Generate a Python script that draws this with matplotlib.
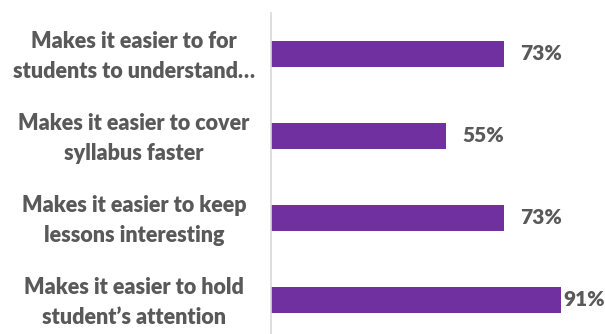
import matplotlib.pyplot as plt
import matplotlib.transforms as mtransforms

# Survey answers and share of respondents agreeing
categories = [
    "Makes it easier to for\nstudents to understand…",
    "Makes it easier to cover\nsyllabus faster",
    "Makes it easier to keep\nlessons interesting",
    "Makes it easier to hold\nstudent’s attention",
]
values = [73, 55, 73, 91]

plt.rcParams['font.family'] = ['Lato', 'DejaVu Sans']
text_color = '#595959'
bar_color = '#7030A0'

fig = plt.figure(figsize=(6.05, 3.34), dpi=100)
ax = fig.add_axes([271 / 605, 0, 1 - 271 / 605, 1 - 13 / 334])

pos = list(range(len(categories)))
ax.barh(pos, values, height=0.32, color=bar_color)

ax.set_xlim(0, 104.7)
ax.set_ylim(3.415, -0.5)

for p, v in zip(pos, values):
    if v > 85:
        ax.text(104.7, p, f"{v}%", ha='right', va='center', fontsize=15,
                fontweight='heavy', color=text_color)
    else:
        ax.text(v + 5, p, f"{v}%", ha='left', va='center', fontsize=15,
                fontweight='heavy', color=text_color)

# category labels, centred in a box left of the axis
trans = mtransforms.blended_transform_factory(fig.transFigure, ax.transData)
for p, c in zip(pos, categories):
    fig.text(134 / 605, p + 0.03, c, transform=trans, ha='center', va='center',
             fontsize=15.5, fontweight='heavy', color=text_color,
             multialignment='center', linespacing=1.5)

ax.set_yticks([])
ax.set_xticks([])

for s in ['top', 'right', 'bottom']:
    ax.spines[s].set_visible(False)
ax.spines['left'].set_color('#d9d9d9')
ax.spines['left'].set_linewidth(1.2)

fig.savefig('out.png', dpi=100)
